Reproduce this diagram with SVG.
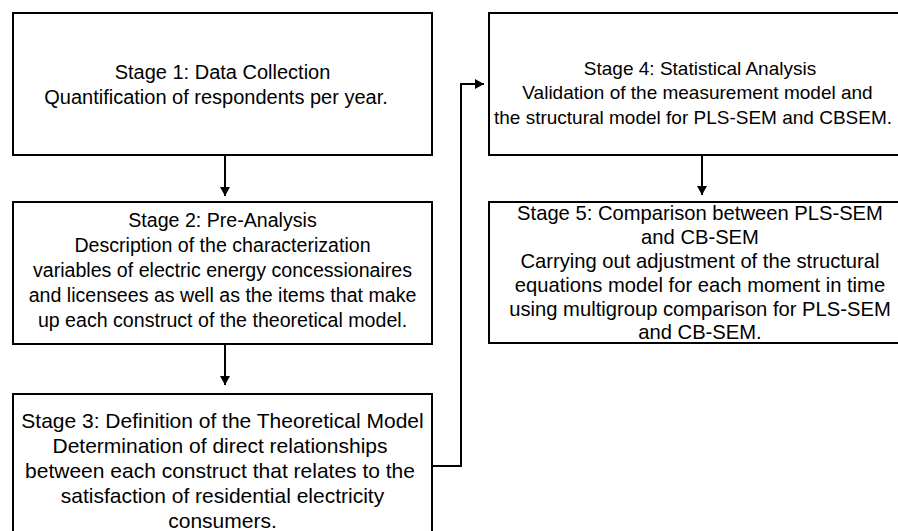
<svg xmlns="http://www.w3.org/2000/svg" width="898" height="531" viewBox="0 0 898 531">
<defs>
<style>
.box{fill:#fff;stroke:#000;stroke-width:2}
.t{font-family:"Liberation Sans",Arial,sans-serif;font-size:20px;fill:#000;text-anchor:middle}
.s2{font-size:19.6px}
.s3{font-size:21px}
.s4{font-size:19px}
.s5{font-size:20.2px}
.c{fill:none;stroke:#000;stroke-width:2}
</style>
<marker id="ah" markerWidth="10" markerHeight="10" refX="9" refY="5" orient="auto" markerUnits="userSpaceOnUse">
<path d="M0,0 L9,5 L0,10 Z" fill="#000"/>
</marker>
</defs>
<rect width="898" height="531" fill="#fff"/>
<g id="stage1">
<rect class="box" x="13" y="13" width="419" height="142"/>
<text class="t" x="222.5" y="79">Stage 1: Data Collection</text>
<text class="t" x="216" y="103.5">Quantification of respondents per year.</text>
</g>
<g id="stage2">
<rect class="box" x="13" y="202" width="419" height="142"/>
<text class="t s2" x="222.5" y="226.5">Stage 2: Pre-Analysis</text>
<text class="t s2" x="222.5" y="251.5">Description of the characterization</text>
<text class="t s2" x="222.5" y="276.5">variables of electric energy concessionaires</text>
<text class="t s2" x="222.5" y="301.5">and licensees as well as the items that make</text>
<text class="t s2" x="222.5" y="326.5">up each construct of the theoretical model.</text>
</g>
<g id="stage3">
<rect class="box" x="13" y="394" width="419" height="150"/>
<text class="t s3" x="222.5" y="428">Stage 3: Definition of the Theoretical Model</text>
<text class="t s3" x="220" y="453">Determination of direct relationships</text>
<text class="t s3" x="220" y="478">between each construct that relates to the</text>
<text class="t s3" x="222.5" y="503">satisfaction of residential electricity</text>
<text class="t s3" x="222.5" y="528">consumers.</text>
</g>
<g id="stage4">
<rect class="box" x="489" y="13" width="423" height="142"/>
<text class="t s4" x="700" y="74.5">Stage 4: Statistical Analysis</text>
<text class="t s4" x="697.5" y="99.2">Validation of the measurement model and</text>
<text class="t s4" x="693" y="123.9">the structural model for PLS-SEM and CBSEM.</text>
</g>
<g id="stage5">
<rect class="box" x="489" y="202" width="423" height="141"/>
<text class="t s5" x="700" y="219.5">Stage 5: Comparison between PLS-SEM</text>
<text class="t s5" x="700" y="243.5">and CB-SEM</text>
<text class="t s5" x="700" y="267.5">Carrying out adjustment of the structural</text>
<text class="t s5" x="700" y="291.5">equations model for each moment in time</text>
<text class="t s5" x="700" y="315.5">using multigroup comparison for PLS-SEM</text>
<text class="t s5" x="700" y="339">and CB-SEM.</text>
</g>
<g id="connectors">
<path class="c" d="M225,155 V196" marker-end="url(#ah)"/>
<path class="c" d="M225,344 V385" marker-end="url(#ah)"/>
<path class="c" d="M432,466 H461 V84 H484" marker-end="url(#ah)"/>
<path class="c" d="M702,155 V195" marker-end="url(#ah)"/>
</g>
</svg>
